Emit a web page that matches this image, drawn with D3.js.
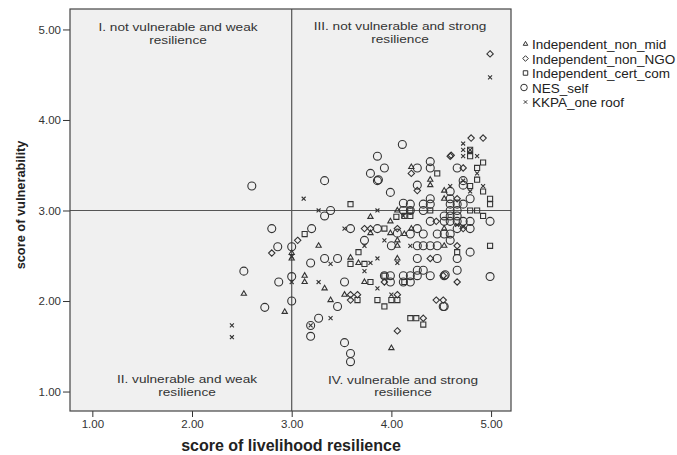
<!DOCTYPE html>
<html>
<head>
<meta charset="utf-8">
<script src="https://cdn.jsdelivr.net/npm/d3@7"></script>
<style>
  body { margin: 0; background: #fff; }
  text { font-family: Arial, "Liberation Sans", sans-serif; }
</style>
</head>
<body>
<svg id="chart"></svg>
<script>
// series names, in legend order
var seriesNames = ["Independent_non_mid", "Independent_non_NGO", "Independent_cert_com", "NES_self", "KKPA_one roof"]

// [livelihood resilience, vulnerability]
var nonMid = [[2.52,2.08],[2.93,1.88],[3.00,2.53],[3.00,2.47],[3.79,2.93],[4.06,3.00],[3.99,2.88],[3.79,2.75],
    [3.99,2.75],[3.27,2.61],[4.06,2.61],[3.59,2.48],[3.67,2.42],[3.13,2.28],[3.13,2.21],[3.73,2.21],[3.33,2.14],
    [3.39,2.01],[3.53,2.07],[4.00,1.48],[4.20,3.48],[4.39,3.34],[4.39,3.28],[4.53,3.22],[4.53,3.13],[4.53,2.80],
    [4.06,2.67],[4.06,2.47],[4.53,2.61],[4.20,2.80],[4.13,2.74]]
var nonNGO = [[2.80,2.53],[3.06,2.67],[3.73,2.80],[3.79,2.80],[4.99,4.73],[4.80,3.80],[4.92,3.80],[4.59,3.60],
    [4.60,3.61],[4.20,3.41],[4.72,3.47],[4.26,3.22],[4.66,3.13],[3.59,2.07],[3.66,2.07],[3.59,2.01],[4.06,1.67],
    [4.32,1.81],[4.45,2.01],[4.06,2.80],[4.66,2.61],[4.39,2.47],[4.52,2.28],[4.66,2.21],[4.06,2.07],[4.52,2.01],
    [4.45,2.88],[4.72,2.80],[3.93,2.21]]
var certCom = [[3.59,3.07],[4.05,2.93],[3.13,2.74],[3.93,2.80],[3.67,2.54],[3.59,2.41],[3.73,2.41],[3.79,2.21],
    [3.66,2.01],[3.86,2.01],[3.93,1.94],[4.00,2.01],[4.06,2.01],[4.19,1.81],[4.25,1.81],[4.32,1.74],[4.79,3.67],
    [4.79,3.60],[4.92,3.53],[4.46,3.41],[4.86,3.47],[4.86,3.34],[4.79,3.27],[4.92,3.21],[4.99,3.13],[4.99,3.07],
    [4.99,2.61],[4.19,3.00],[4.39,3.00],[4.79,3.00],[4.86,3.00],[4.19,2.94],[4.92,2.94],[4.66,2.54],[3.93,2.28],
    [4.13,2.21],[4.13,2.94]]
var nesSelf = [[2.60,3.27],[2.80,2.80],[2.86,2.60],[3.00,2.60],[2.52,2.33],[2.87,2.21],[3.00,2.27],[3.00,2.00],
    [2.73,1.93],[3.33,3.33],[3.86,3.60],[3.93,3.47],[3.79,3.41],[3.86,3.33],[3.87,3.34],[3.99,3.20],[4.11,3.73],
    [4.12,3.08],[3.39,3.00],[3.33,2.94],[3.20,2.80],[3.59,2.80],[3.86,2.80],[4.06,2.75],[3.73,2.67],[4.00,2.61],
    [3.33,2.47],[3.46,2.47],[3.19,2.42],[3.53,2.21],[3.46,1.94],[3.27,1.81],[3.19,1.73],[3.19,1.61],[3.53,1.54],
    [3.59,1.42],[3.59,1.33],[4.52,1.94],[4.39,3.54],[4.39,3.47],[4.26,3.47],[4.66,3.47],[4.72,3.33],[4.72,3.28],
    [4.26,3.28],[4.59,3.21],[4.39,3.13],[4.59,3.13],[4.79,3.13],[4.72,3.07],
    [4.19,3.07],[4.32,3.07],[4.39,3.07],[4.59,3.07],[4.66,3.07],
    [4.12,3.00],[4.19,3.00],[4.32,3.00],[4.59,3.00],[4.66,3.00],
    [4.53,2.94],[4.59,2.94],[4.66,2.94],
    [4.39,2.88],[4.53,2.88],[4.59,2.88],[4.66,2.88],[4.72,2.88],[4.79,2.88],[4.99,2.88],
    [4.26,2.80],[4.66,2.80],[4.79,2.80],
    [4.19,2.74],[4.32,2.74],[4.46,2.74],[4.53,2.74],[4.59,2.74],
    [4.59,2.67],[4.26,2.61],[4.32,2.61],[4.39,2.61],[4.46,2.61],[4.79,2.54],
    [4.26,2.47],[4.46,2.47],[4.66,2.47],[4.26,2.34],[4.32,2.34],[4.66,2.34],
    [4.12,2.28],[4.19,2.28],[4.26,2.28],[4.39,2.28],[4.53,2.28],[4.54,2.29],[4.99,2.27],
    [4.12,2.21],[4.19,2.21],[4.53,1.94],[3.93,2.28],[3.99,2.28],[3.99,2.21]]
var kkpa = [[2.40,1.73],[2.40,1.60],[3.00,2.49],[3.00,2.21],[3.12,3.13],[3.27,3.00],[3.86,3.00],[4.99,4.47],
    [4.72,3.74],[4.72,3.67],[4.79,3.67],[4.72,3.60],[4.86,3.60],[4.86,3.41],[4.72,3.33],[4.59,3.27],[4.92,3.27],
    [4.79,3.21],[3.53,2.80],[3.73,2.61],[3.93,2.67],[3.39,2.41],[3.79,2.42],[3.86,2.47],[4.06,2.42],[3.73,2.33],
    [3.27,2.21],[3.86,2.14],[4.00,2.07],[3.39,1.81],[3.19,1.73],[4.12,2.94],[4.19,2.61],[4.66,2.84],[4.72,2.82]]

var xTicks = [1, 2, 3, 4, 5]
var yTicks = [1, 2, 3, 4, 5]
var refX = 3, refY = 3

var quadrantLabels = [
    {lines: ["I. not vulnerable and weak", "resilience"], cx: 178, top: 31},
    {lines: ["III. not vulnerable and strong", "resilience"], cx: 400, top: 30},
    {lines: ["II. vulnerable and weak", "resilience"], cx: 187, top: 383},
    {lines: ["IV. vulnerable and strong", "resilience"], cx: 403, top: 383.5}
]

var W = 677, H = 455
var margin = {top: 9, left: 70}
var pw = 441, ph = 402

var svg = d3.select("#chart")
    .attr("width", W)
    .attr("height", H)

var g = svg.append("g")
    .attr("transform", "translate(" + margin.left + "," + margin.top + ")")

var x = d3.scaleLinear().domain([0.776, 5.21]).range([0, 442])
var y = d3.scaleLinear().domain([0.785, 5.226]).range([ph, 0])

g.append("rect")
    .attr("width", pw)
    .attr("height", ph)
    .attr("fill", "#f0f0f0")

// reference lines
g.append("line")
    .attr("x1", x(refX)).attr("x2", x(refX))
    .attr("y1", 0).attr("y2", ph)
    .attr("stroke", "#555").attr("stroke-width", 1.2)
g.append("line")
    .attr("x1", 0).attr("x2", pw)
    .attr("y1", y(refY)).attr("y2", y(refY))
    .attr("stroke", "#555").attr("stroke-width", 1.2)

// quadrant labels (the original's text is a bit wider than Arial)
quadrantLabels.forEach(function (q) {
    q.lines.forEach(function (l, i) {
        svg.append("text")
            .attr("transform", "translate(" + q.cx + "," + (q.top + i * 12.7) + ") scale(1.24,1)")
            .attr("text-anchor", "middle")
            .attr("font-size", "11px")
            .attr("fill", "#333")
            .text(l)
    })
})

var xAxis = g.append("g")
    .attr("transform", "translate(0," + ph + ")")
    .call(d3.axisBottom(x).tickValues(xTicks).tickFormat(d3.format(".2f")).tickSizeOuter(0).tickSize(6).tickPadding(3))
var yAxis = g.append("g")
    .call(d3.axisLeft(y).tickValues(yTicks).tickFormat(d3.format(".2f")).tickSizeOuter(0).tickSize(7).tickPadding(2))

;[xAxis, yAxis].forEach(function (a) {
    a.select(".domain").remove()
    a.selectAll("line").attr("stroke", "#333")
    a.selectAll("text")
        .attr("font-size", "11.5px")
        .attr("fill", "#333")
        .attr("font-family", "Arial, 'Liberation Sans', sans-serif")
})

g.append("rect")
    .attr("width", pw)
    .attr("height", ph)
    .attr("fill", "none")
    .attr("stroke", "#444")
    .attr("stroke-width", 1.2)

var symX = d3.symbolTimes || d3.symbolX
var styles = [
    {data: nonMid, type: d3.symbolTriangle, size: 12, legend: 9},
    {data: nonNGO, type: d3.symbolDiamond2 || d3.symbolDiamond, size: 26, legend: 20},
    {data: certCom, type: d3.symbolSquare, size: 26, legend: 20},
    {data: nesSelf, type: d3.symbolCircle, size: 50, legend: 34},
    {data: kkpa, type: symX, size: 12, legend: 9}
]

styles.forEach(function (s) {
    g.append("g").selectAll("path")
        .data(s.data)
        .enter()
        .append("path")
            .attr("transform", function (d) {
                return "translate(" + x(d[0]) + "," + y(d[1]) + ")"
            })
            .attr("d", d3.symbol().type(s.type).size(s.size))
            .attr("fill", "none")
            .attr("stroke", "#333")
            .attr("stroke-width", 1.1)
})

// legend
var legend = svg.append("g")
seriesNames.forEach(function (n, i) {
    var s = styles[i]
    var ly = 44 + i * 14.5
    legend.append("path")
        .attr("transform", "translate(" + (i == 3 ? 524 : 525.5) + "," + ly + ")")
        .attr("d", d3.symbol().type(s.type).size(s.legend))
        .attr("fill", "none")
        .attr("stroke", "#333")
        .attr("stroke-width", 1)
    legend.append("text")
        .attr("x", 532)
        .attr("y", ly + 5)
        .attr("font-size", "13.5px")
        .attr("fill", "#222")
        .text(n)
})

// axis titles
svg.append("text")
    .attr("x", 291)
    .attr("y", 451)
    .attr("text-anchor", "middle")
    .attr("font-size", "16px")
    .attr("font-weight", "bold")
    .attr("fill", "#222")
    .text("score of livelihood resilience")
svg.append("text")
    .attr("transform", "translate(25,205) rotate(-90)")
    .attr("text-anchor", "middle")
    .attr("font-size", "12.8px")
    .attr("font-weight", "bold")
    .attr("fill", "#222")
    .text("score of vulnerability")
</script>
</body>
</html>
